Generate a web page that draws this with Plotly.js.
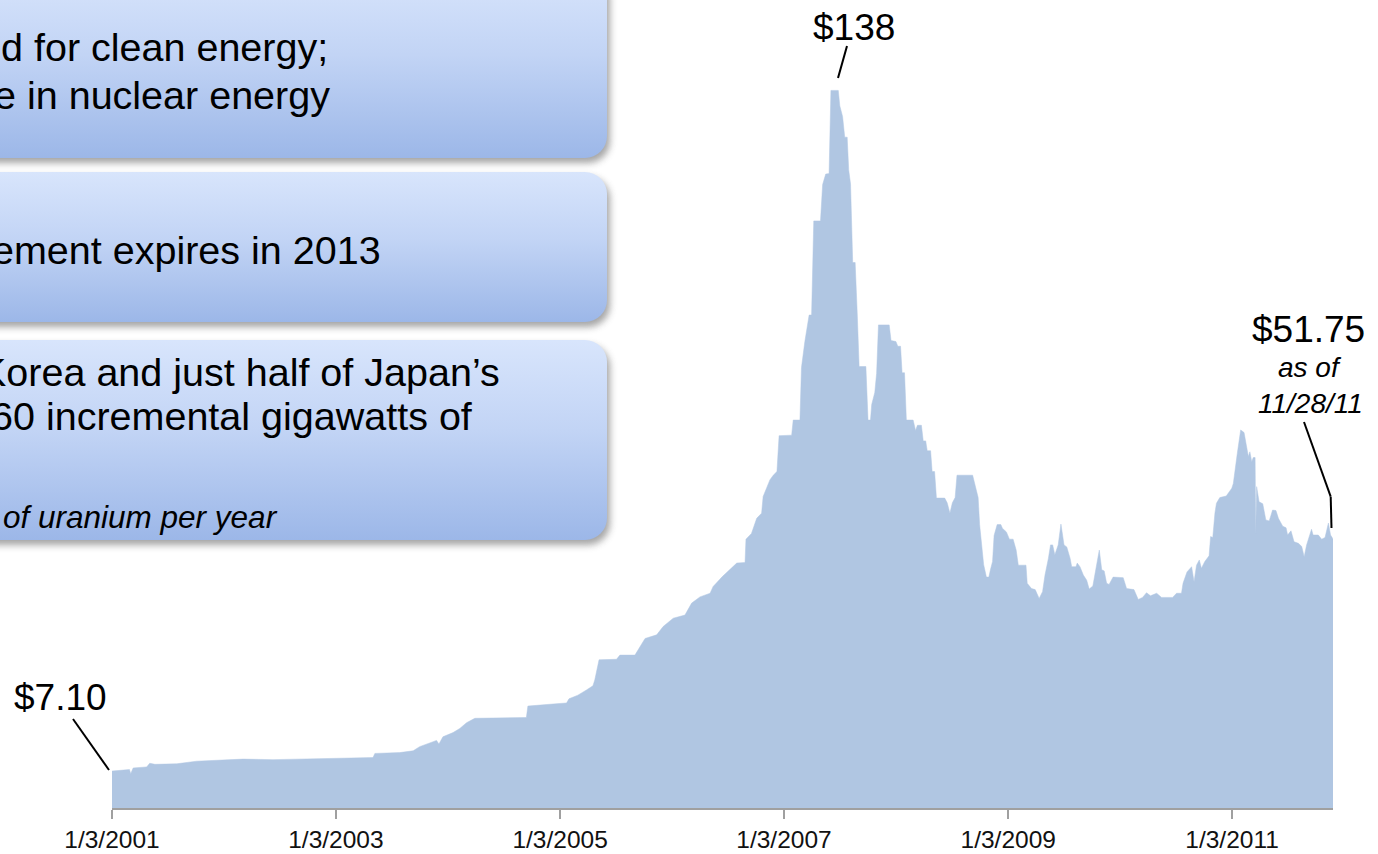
<!DOCTYPE html>
<html>
<head>
<meta charset="utf-8">
<script src="https://cdn.plot.ly/plotly-3.0.1.min.js"></script>
<style>
html,body{margin:0;padding:0;background:#fff;}
#chart{width:1378px;height:854px;}
</style>
</head>
<body>
<div id="chart"></div>
<script>
// ---- Data: weekly uranium spot price (US$/lb) ----
const dates = [
'2001-01-03','2001-02-20','2001-03-01','2001-03-05','2001-03-13','2001-04-26','2001-05-06','2001-05-23','2001-08-02','2001-10-06',
'2002-03-06','2002-06-12','2002-12-25','2003-05-04','2003-05-10','2003-07-30','2003-09-12','2003-10-03','2003-11-16','2003-11-27',
'2003-12-05','2003-12-18','2004-01-20','2004-02-11','2004-03-04','2004-03-31','2004-09-15','2004-09-20','2004-12-11','2005-01-24',
'2005-02-01','2005-03-02','2005-03-30','2005-04-20','2005-04-26','2005-05-10','2005-07-06','2005-07-17','2005-09-04','2005-09-15',
'2005-10-07','2005-11-14','2005-12-05','2006-01-07','2006-02-14','2006-03-08','2006-04-04','2006-05-07','2006-05-17','2006-06-16',
'2006-07-11','2006-08-02','2006-08-29','2006-09-01','2006-09-19','2006-10-06','2006-10-22','2006-10-27','2006-11-18','2006-11-29',
'2006-12-11','2006-12-18','2007-01-28','2007-02-02','2007-02-24','2007-03-01','2007-03-12','2007-03-26','2007-04-03','2007-04-10',
'2007-05-02','2007-05-09','2007-05-19','2007-05-30','2007-06-05','2007-06-29','2007-07-04','2007-07-13','2007-07-20','2007-07-28',
'2007-08-02','2007-08-08','2007-08-15','2007-08-23','2007-08-30','2007-09-05','2007-09-27','2007-10-04','2007-10-12','2007-10-16',
'2007-10-26','2007-11-01','2007-11-07','2007-12-12','2007-12-18','2008-01-03','2008-01-09','2008-01-18','2008-01-23','2008-01-31',
'2008-02-06','2008-02-28','2008-03-07','2008-03-13','2008-03-26','2008-04-01','2008-04-09','2008-04-14','2008-04-25','2008-04-30',
'2008-05-08','2008-05-14','2008-06-10','2008-06-18','2008-06-27','2008-07-05','2008-07-14','2008-07-20','2008-09-09','2008-09-17',
'2008-09-27','2008-10-02','2008-10-08','2008-10-15','2008-10-24','2008-11-01','2008-11-06','2008-11-13','2008-11-18','2008-11-28',
'2008-12-10','2008-12-15','2008-12-28','2009-01-07','2009-01-19','2009-01-29','2009-02-05','2009-03-02','2009-03-06','2009-03-20',
'2009-04-01','2009-04-14','2009-04-25','2009-05-03','2009-05-14','2009-05-21','2009-05-28','2009-06-04','2009-06-15','2009-06-24',
'2009-07-04','2009-07-13','2009-07-24','2009-07-29','2009-08-12','2009-08-16','2009-08-25','2009-09-05','2009-09-16','2009-09-24',
'2009-10-06','2009-10-19','2009-10-27','2009-11-04','2009-11-12','2009-11-20','2009-11-28','2009-12-11','2010-01-13','2010-01-24',
'2010-02-17','2010-03-03','2010-03-17','2010-03-30','2010-04-12','2010-05-02','2010-05-18','2010-06-23','2010-07-06','2010-07-22',
'2010-07-27','2010-08-09','2010-08-24','2010-09-01','2010-09-09','2010-09-18','2010-09-25','2010-10-06','2010-10-20','2010-10-25',
'2010-11-01','2010-11-08','2010-11-13','2010-11-24','2010-12-15','2011-01-02','2011-01-07','2011-01-20','2011-01-31','2011-02-11',
'2011-02-20','2011-02-25','2011-03-02','2011-03-08','2011-03-13','2011-03-19','2011-03-21','2011-03-24','2011-04-01','2011-04-13',
'2011-04-23','2011-05-04','2011-05-15','2011-05-26','2011-06-03','2011-06-17','2011-06-28','2011-07-03','2011-07-14','2011-07-24',
'2011-08-07','2011-08-18','2011-08-26','2011-09-03','2011-09-19','2011-09-24','2011-10-11','2011-10-22','2011-11-02','2011-11-13',
'2011-11-20','2011-11-28'
];
const prices = [
7.10,7.3,7.4,6.6,7.7,7.9,8.6,8.4,8.5,9.0,
9.4,9.3,9.6,9.7,10.5,10.65,11.0,11.8,12.75,13.0,
12.3,13.7,14.5,15.3,16.4,17.25,17.4,19.6,20.0,20.2,
21.0,21.7,22.7,23.5,24.6,28.5,28.6,29.4,29.4,30.4,
32.6,33.3,34.9,36.5,37.1,39.4,40.6,41.3,42.6,44.5,
45.8,47.1,47.2,51.7,52.8,55.7,56.7,59.9,63.1,64.0,
64.7,71.6,71.7,74.6,74.6,84.7,89.7,94.8,94.8,112.9,
112.9,119.9,121.9,122.0,138,138,135.0,133.0,129.0,129.0,
122.7,120.0,104.9,104.9,94.8,84.9,84.9,74.6,74.6,77.6,
79.9,83.6,92.9,92.9,89.9,89.7,88.8,88.8,83.7,83.7,
74.6,74.6,72.6,73.6,73.6,70.6,70.6,68.7,68.7,64.7,
64.7,59.6,59.6,58.7,56.7,58.7,59.7,64.0,64.0,62.3,
59.7,54.4,50.8,46.8,44.4,44.4,45.8,47.4,52.4,54.5,
54.5,53.8,53.1,51.7,51.7,49.6,46.7,46.7,43.2,42.2,
42.0,40.3,41.6,44.8,48.0,50.6,50.6,48.7,50.6,54.6,
50.6,50.2,48.0,46.4,46.4,47.1,46.4,44.8,43.8,42.1,
42.7,46.7,49.6,45.8,45.6,43.2,43.0,44.4,44.3,42.2,
42.0,40.1,40.5,41.4,40.8,41.3,40.5,40.5,41.3,41.3,
43.2,45.4,46.4,43.5,46.7,47.7,46.1,47.4,48.5,52.2,
52.0,56.7,58.6,59.7,60.0,61.5,62.4,68.2,72.7,72.2,
69.2,67.6,68.5,66.6,67.4,67.4,52.8,61.8,58.9,58.5,
55.4,55.2,57.3,57.2,55.7,54.2,53.9,52.5,53.3,51.2,
50.9,50.3,48.3,50.6,53.6,52.5,52.5,51.7,52.0,54.8,
52.5,51.75
];
const tickDates = ['2001-01-03','2003-01-03','2005-01-03','2007-01-03','2009-01-03','2011-01-03'];
const tickLabels = ['1/3/2001','1/3/2003','1/3/2005','1/3/2007','1/3/2009','1/3/2011'];
const priceLabels = ['$7.10','$138','$51.75'];
const asOfLines = ['as of','11/28/11'];
const boxLines = [
  'd for clean energy;',
  'e in nuclear energy',
  'ement expires in 2013',
  'Korea and just half of Japan\u2019s',
  '60 incremental gigawatts of'
];
const boxNote = 'of uranium per year';

// ---- Layout helpers (figure pixels -> paper coords) ----
const W = 1378, H = 854, ML = 112, MR = 45, MT = 2, MB = 46;
const PW = W - ML - MR, PH = H - MT - MB;
const P = px => (px - ML) / PW;
const Q = py => (H - MB - py) / PH;
const FONT = 'Liberation Sans, Arial, Helvetica, sans-serif';

// Background boxes (rounded, gradient, shadow) as an SVG layout image
const boxes = [[-40,-30,647,188],[-40,172,647,150],[-40,340,647,200]];
let svg = "<svg xmlns='http://www.w3.org/2000/svg' width='"+W+"' height='"+H+"' viewBox='0 0 "+W+" "+H+"'>"+
  "<defs><linearGradient id='g' x1='0' y1='0' x2='0' y2='1'>"+
  "<stop offset='0' stop-color='#d8e5fc'/><stop offset='0.45' stop-color='#c2d4f5'/><stop offset='1' stop-color='#9cb7e8'/></linearGradient>"+
  "<filter id='s' x='-10%' y='-20%' width='130%' height='150%'><feGaussianBlur stdDeviation='3.5'/></filter></defs>";
boxes.forEach(b => {
  svg += "<rect x='"+(b[0]+3)+"' y='"+(b[1]+5)+"' width='"+b[2]+"' height='"+b[3]+"' rx='22' fill='#6b6b6b' opacity='0.6' filter='url(#s)'/>";
  svg += "<rect x='"+b[0]+"' y='"+b[1]+"' width='"+b[2]+"' height='"+b[3]+"' rx='22' fill='url(#g)'/>";
});
svg += "</svg>";
const svgURI = 'data:image/svg+xml;charset=utf-8,' + encodeURIComponent(svg);

const trace = {
  x: dates, y: prices, type: 'scatter', mode: 'lines',
  fill: 'tozeroy', fillcolor: 'rgb(176,198,226)',
  line: {color: 'rgb(176,198,226)', width: 0.5},
  hoverinfo: 'skip'
};

const ann = [];
function txt(t, px, py, size, opts) {
  ann.push(Object.assign({
    text: t, xref: 'paper', yref: 'paper', x: P(px), y: Q(py),
    xanchor: 'center', yanchor: 'middle', showarrow: false,
    font: {family: FONT, size: size, color: '#000'}
  }, opts || {}));
}
txt(priceLabels[0], 60, 697, 37);
txt(priceLabels[1], 854, 27, 37);
txt(priceLabels[2], 1308, 330, 37);
txt(asOfLines[0], 1310, 368, 28, {font: {family: FONT, size: 28, color: '#000', style: 'italic'}});
txt(asOfLines[1], 1310, 403, 28, {font: {family: FONT, size: 28, color: '#000', style: 'italic'}});
const boxPos = [[330,47],[332,95],[383,250],[502,372],[475,416]];
boxLines.forEach((t,i) => txt(t, boxPos[i][0], boxPos[i][1], 39.5, {xanchor: 'right'}));
txt(boxNote, 280, 517, 31.5, {xanchor: 'right', font: {family: FONT, size: 31.5, color: '#000', style: 'italic'}});

function seg(x0,y0,x1,y1){
  return {type:'line', xref:'paper', yref:'paper', x0:P(x0), y0:Q(y0), x1:P(x1), y1:Q(y1),
          line:{color:'#000', width:2}};
}
const shapes = [
  seg(73,719,109,770),
  seg(838,78,847,46),
  seg(1304,422,1330.7,496.7),
  seg(1330.7,496.7,1331.5,528)
];

const layout = {
  width: W, height: H,
  margin: {l: ML, r: MR, t: MT, b: MB, pad: 0},
  paper_bgcolor: '#fff', plot_bgcolor: 'rgba(0,0,0,0)',
  showlegend: false,
  xaxis: {
    type: 'date', range: ['2001-01-03', '2011-11-28'],
    tickvals: tickDates, ticktext: tickLabels,
    showgrid: false, zeroline: false,
    showline: true, linecolor: '#a0a0a0', linewidth: 2,
    ticks: 'outside', ticklen: 9, tickwidth: 1.5, tickcolor: '#a0a0a0',
    tickfont: {family: FONT, size: 24.5, color: '#111'},
    ticklabelstandoff: 0
  },
  yaxis: {range: [0, 155], visible: false, fixedrange: true},
  images: [{
    source: svgURI, xref: 'paper', yref: 'paper',
    x: P(0), y: Q(0), sizex: W / PW, sizey: H / PH,
    xanchor: 'left', yanchor: 'top', sizing: 'stretch', layer: 'below'
  }],
  annotations: ann,
  shapes: shapes
};

Plotly.newPlot('chart', [trace], layout, {displayModeBar: false, staticPlot: true});
</script>
</body>
</html>
